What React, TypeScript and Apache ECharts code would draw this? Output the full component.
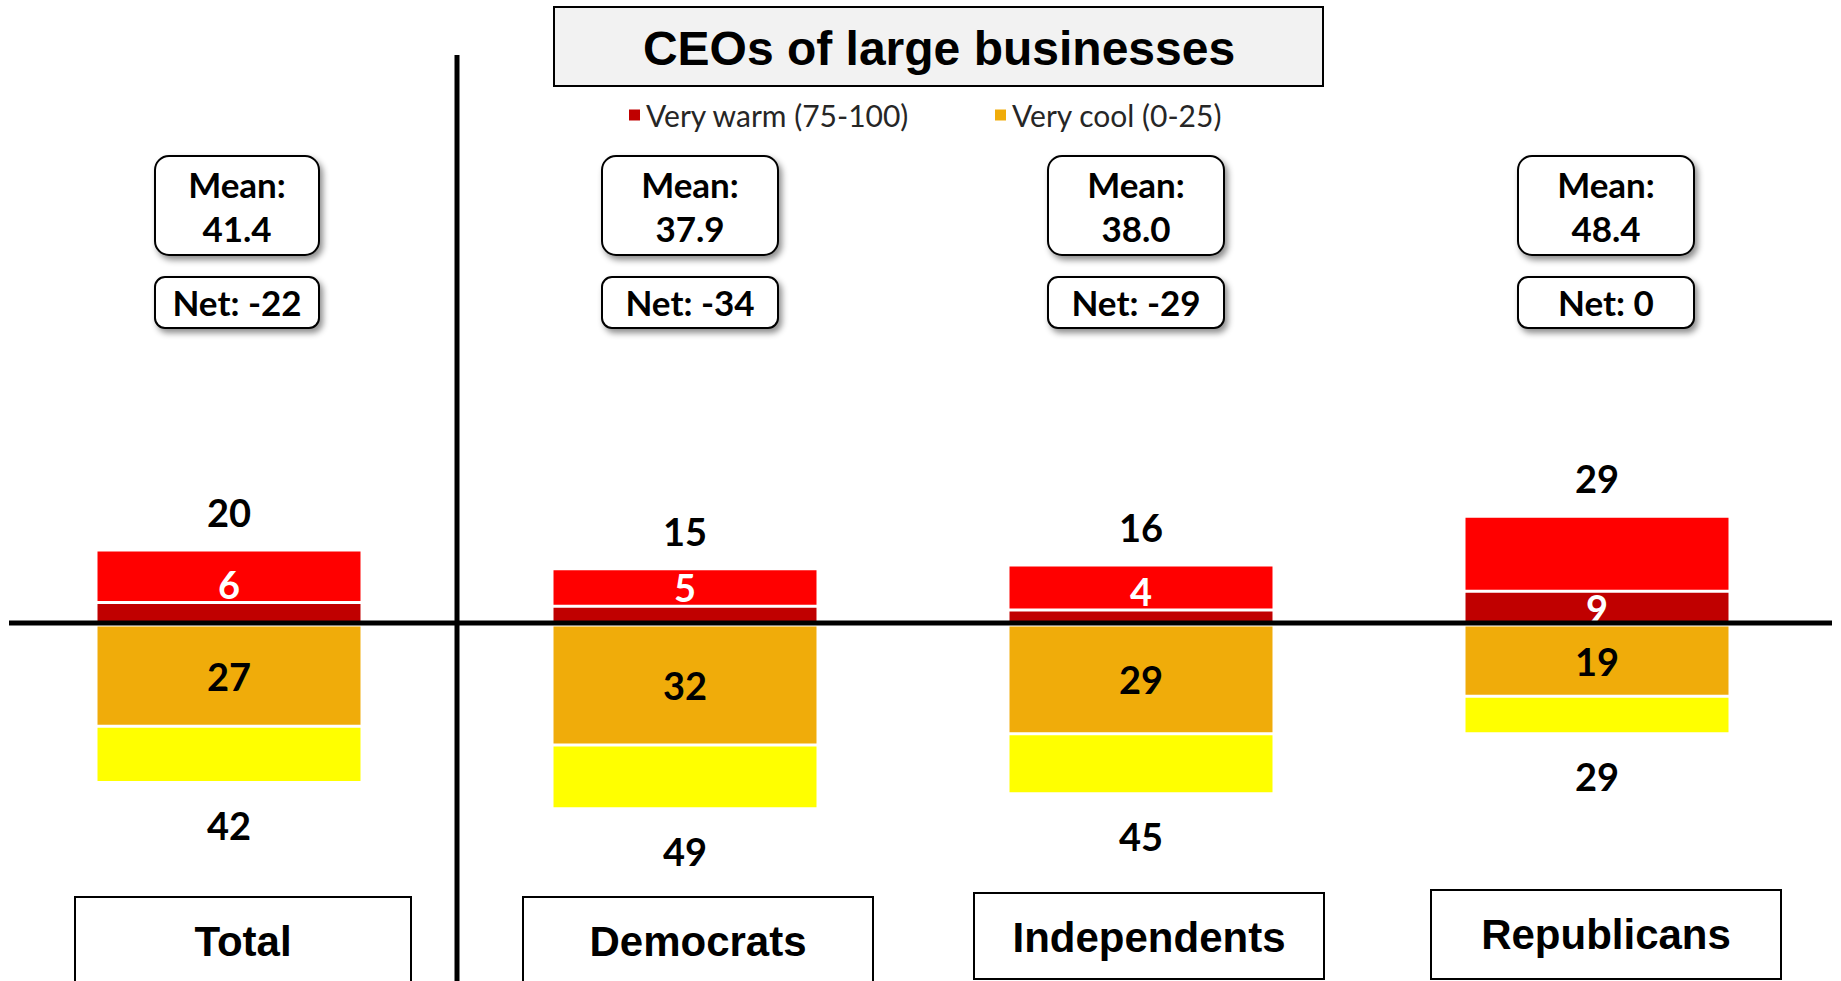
import React, { useEffect, useRef } from 'react';
import * as echarts from 'echarts';

const categories = ['Total', 'Democrats', 'Independents', 'Republicans'];
const veryWarm = [6, 5, 4, 9];
const warmTotal = [20, 15, 16, 29];
const veryCool = [27, 32, 29, 19];
const coolTotal = [42, 49, 45, 29];
const means = [41.4, 37.9, 38.0, 48.4];
const nets = [-22, -34, -29, 0];

const warmOnly = warmTotal.map((t, i) => t - veryWarm[i]);
const coolOnly = coolTotal.map((t, i) => t - veryCool[i]);

const NUM_FONT = 'Lato';
const HEAD_FONT = '"Liberation Sans", Arial, sans-serif';

// small horizontal nudges of the annotation boxes relative to each category centre
const boxNudge = [8, 5, -5, 9];
const catNudge = [14, 13, 8, 9];
const catTop = [897, 897, 893, 890];

export default function App() {
  const ref = useRef<HTMLDivElement>(null);

  useEffect(() => {
    document.body.style.margin = '0';
    if (!ref.current) return;
    const chart = echarts.init(ref.current, null, { renderer: 'svg' });

    const numLabel = {
      fontFamily: NUM_FONT,
      fontWeight: 'bold' as const,
      fontSize: 38,
    };

    const legendText = { fontFamily: NUM_FONT, fontSize: 30, color: '#262626' };

    const option: any = {
      animation: false,
      backgroundColor: '#ffffff',
      grid: { left: 1, right: 16, top: 325, bottom: 56, containLabel: false },
      legend: [
        {
          data: ['Very warm (75-100)'],
          left: 622,
          top: 95,
          icon: 'rect',
          itemWidth: 13,
          itemHeight: 13,
          selectedMode: false,
          textStyle: legendText,
        },
        {
          data: ['Very cool (0-25)'],
          left: 988,
          top: 95,
          icon: 'rect',
          itemWidth: 13,
          itemHeight: 13,
          selectedMode: false,
          textStyle: legendText,
        },
      ],
      xAxis: {
        type: 'category',
        data: categories,
        axisLine: { show: false },
        axisTick: { show: false },
        axisLabel: { show: false },
        splitLine: { show: false },
      },
      yAxis: {
        type: 'value',
        min: -80,
        max: 80,
        show: false,
        splitLine: { show: false },
      },
      series: [
        {
          name: 'Very warm (75-100)',
          type: 'bar',
          stack: 'all',
          barWidth: 266,
          z: 3,
          itemStyle: { color: '#C00000', borderColor: '#ffffff', borderWidth: 1.5 },
          data: veryWarm.map((v) => ({
            value: v,
            label: {
              show: true,
              position: v < 8 ? 'top' : 'inside',
              distance: 0,
              color: '#ffffff',
              textBorderWidth: 0,
              ...numLabel,
            },
          })),
        },
        {
          name: 'Warm',
          type: 'bar',
          stack: 'all',
          barWidth: 266,
          itemStyle: { color: '#FF0000', borderColor: '#ffffff', borderWidth: 1.5 },
          data: warmOnly,
        },
        {
          name: 'Very cool (0-25)',
          type: 'bar',
          stack: 'all',
          barWidth: 266,
          itemStyle: { color: '#F0AC0A', borderColor: '#ffffff', borderWidth: 1.5 },
          label: {
            show: true,
            position: 'inside',
            color: '#000000',
            textBorderWidth: 0,
            formatter: (p: any) => String(Math.abs(p.value)),
            ...numLabel,
          },
          data: veryCool.map((v) => -v),
        },
        {
          name: 'Cool',
          type: 'bar',
          stack: 'all',
          barWidth: 266,
          itemStyle: { color: '#FFFF00', borderColor: '#ffffff', borderWidth: 1.5 },
          data: coolOnly.map((v) => -v),
        },
        {
          name: 'Warm total',
          type: 'scatter',
          symbolSize: 0,
          z: 5,
          itemStyle: { opacity: 1 },
          label: {
            show: true,
            position: 'top',
            distance: 19,
            color: '#000000',
            formatter: (p: any) => String(p.value),
            ...numLabel,
          },
          data: warmTotal,
        },
        {
          name: 'Cool total',
          type: 'scatter',
          symbolSize: 0,
          z: 5,
          itemStyle: { opacity: 1 },
          label: {
            show: true,
            position: 'bottom',
            distance: 23,
            color: '#000000',
            formatter: (p: any) => String(Math.abs(p.value)),
            ...numLabel,
          },
          data: coolTotal.map((v) => -v),
        },
      ],
    };

    chart.setOption(option);

    const cx = categories.map((_, i) => chart.convertToPixel({ xAxisIndex: 0 }, i) as number);
    const y0 = chart.convertToPixel({ yAxisIndex: 0 }, 0) as number;
    const xv = (cx[0] + cx[1]) / 2;

    const shadow = {
      shadowBlur: 6,
      shadowColor: 'rgba(0,0,0,0.45)',
      shadowOffsetX: 3,
      shadowOffsetY: 4,
    };

    const boxText = (text: string, x: number, y: number, size: number, family: string) => ({
      type: 'text',
      z: 11,
      x,
      y,
      style: {
        text,
        fontFamily: family,
        fontWeight: 'bold',
        fontSize: size,
        fill: '#000000',
        align: 'center',
        verticalAlign: 'middle',
      },
    });

    const graphics: any[] = [
      {
        type: 'rect',
        z: 10,
        shape: { x: 554, y: 7, width: 769, height: 79 },
        style: { fill: '#F2F2F2', stroke: '#000000', lineWidth: 2 },
      },
      boxText('CEOs of large businesses', 939, 48, 48, HEAD_FONT),
      {
        type: 'line',
        z: 10,
        shape: { x1: xv, y1: 55, x2: xv, y2: 981 },
        style: { stroke: '#000000', lineWidth: 5 },
      },
      {
        type: 'line',
        z: 10,
        shape: { x1: 9, y1: y0 - 2, x2: 1832, y2: y0 - 2 },
        style: { stroke: '#000000', lineWidth: 5 },
      },
    ];

    categories.forEach((name, i) => {
      const mx = cx[i] + boxNudge[i];
      const bw = i === 0 ? 164 : 176;
      graphics.push(
        {
          type: 'rect',
          z: 10,
          shape: { x: mx - bw / 2, y: 156, width: bw, height: 99, r: 14 },
          style: { fill: '#ffffff', stroke: '#000000', lineWidth: 2, ...shadow },
        },
        boxText('Mean:', mx, 184, 35, NUM_FONT),
        boxText(means[i].toFixed(1), mx, 228, 35, NUM_FONT),
        {
          type: 'rect',
          z: 10,
          shape: { x: mx - bw / 2, y: 277, width: bw, height: 51, r: 10 },
          style: { fill: '#ffffff', stroke: '#000000', lineWidth: 2, ...shadow },
        },
        boxText('Net: ' + nets[i], mx, 302, 35, NUM_FONT)
      );
      const bx = cx[i] + catNudge[i];
      const cw = i === 0 ? 336 : 350;
      graphics.push(
        {
          type: 'rect',
          z: 10,
          shape: { x: bx - cw / 2, y: catTop[i], width: cw, height: 979 - catTop[i] + (i < 2 ? 10 : 0) },
          style: { fill: '#ffffff', stroke: '#000000', lineWidth: 2 },
        },
        boxText(name, bx, catTop[i] + 44, 42, HEAD_FONT)
      );
    });

    chart.setOption({ graphic: { elements: graphics } });

    return () => {
      chart.dispose();
    };
  }, []);

  return <div ref={ref} style={{ width: 1841, height: 981 }} />;
}
